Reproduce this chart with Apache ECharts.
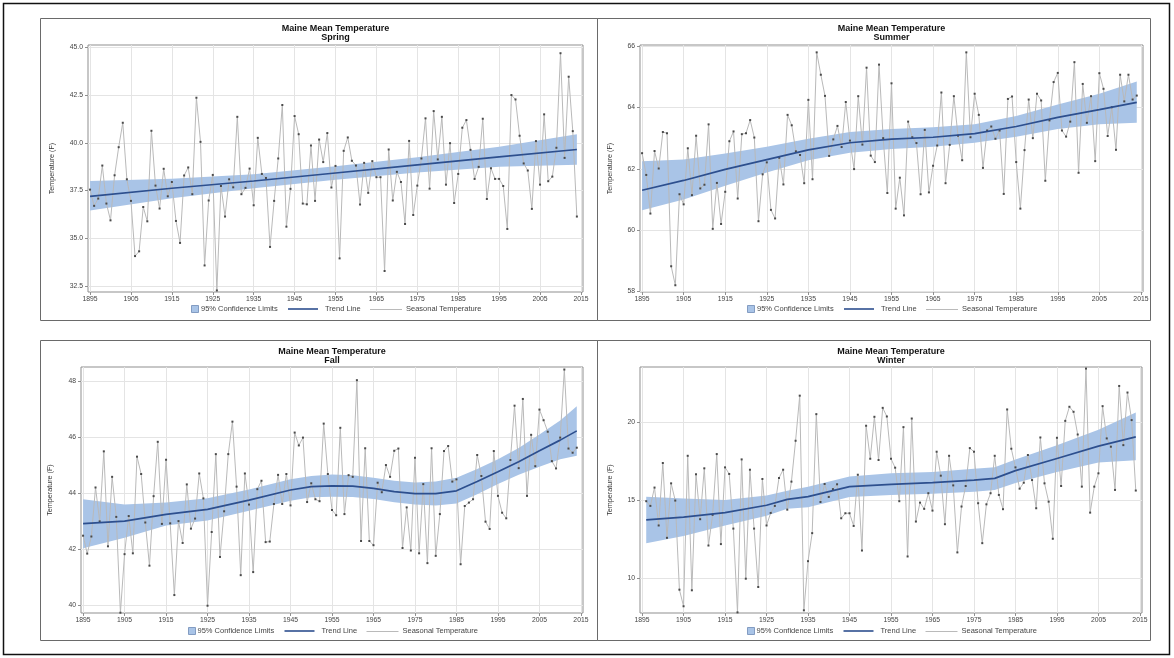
<!DOCTYPE html>
<html><head><meta charset="utf-8">
<script src="https://cdn.jsdelivr.net/npm/echarts@6/dist/echarts.min.js"></script>
<style>html,body{margin:0;padding:0;background:#fff}#c{width:1174px;height:658px}</style>
</head><body><div id="c"></div>
<script>
const YEARS = [1895,1896,1897,1898,1899,1900,1901,1902,1903,1904,1905,1906,1907,1908,1909,1910,1911,1912,1913,1914,
1915,1916,1917,1918,1919,1920,1921,1922,1923,1924,1925,1926,1927,1928,1929,1930,1931,1932,1933,1934,
1935,1936,1937,1938,1939,1940,1941,1942,1943,1944,1945,1946,1947,1948,1949,1950,1951,1952,1953,1954,
1955,1956,1957,1958,1959,1960,1961,1962,1963,1964,1965,1966,1967,1968,1969,1970,1971,1972,1973,1974,
1975,1976,1977,1978,1979,1980,1981,1982,1983,1984,1985,1986,1987,1988,1989,1990,1991,1992,1993,1994,
1995,1996,1997,1998,1999,2000,2001,2002,2003,2004,2005,2006,2007,2008,2009,2010,2011,2012,2013,2014];
const WINTER_YEARS = YEARS.slice(1);
const X_TICKS = [1895,1905,1915,1925,1935,1945,1955,1965,1975,1985,1995,2005,2015];

const SPRING = [37.55,36.7,37.08,38.81,36.82,35.94,38.30,39.77,41.05,38.09,
36.96,34.07,34.32,36.64,35.89,40.63,37.76,36.56,38.64,37.2,
37.95,35.91,34.76,38.29,38.71,37.31,42.36,40.05,33.58,36.98,
38.32,32.27,37.74,36.14,38.09,37.67,41.36,37.31,37.64,38.65,
36.73,40.26,38.37,38.16,34.55,36.96,39.18,41.98,35.61,37.59,
41.40,40.45,36.82,36.78,39.86,36.96,40.17,38.99,40.51,37.66,
38.79,33.95,39.58,40.28,39.06,38.81,36.77,38.95,37.38,39.04,
38.20,38.20,33.29,39.65,36.98,38.48,37.95,35.75,40.10,36.22,
37.76,39.18,41.28,37.60,41.66,39.13,41.36,37.81,39.98,36.85,
38.37,40.79,41.19,39.63,38.11,38.74,41.26,37.06,38.67,38.11,
38.11,37.74,35.49,42.50,42.27,40.37,38.92,38.55,36.54,40.09,
37.81,41.49,37.99,38.23,39.74,44.69,39.21,43.46,40.61,36.14];
const SUMMER = [62.51,61.80,60.54,62.58,62.01,63.20,63.16,58.82,58.20,61.17,
60.84,62.67,61.14,63.08,61.36,61.48,63.45,60.04,61.54,60.20,
61.25,62.90,63.22,61.03,63.13,63.16,63.59,63.02,60.29,61.82,
62.21,60.66,60.38,62.36,61.49,63.76,63.42,62.57,62.45,61.53,
64.25,61.66,65.80,65.07,64.38,62.42,62.96,63.40,62.71,64.18,
62.92,61.99,64.37,62.79,65.30,62.43,62.22,65.40,63.00,61.21,
64.79,60.70,61.71,60.48,63.54,63.03,62.84,61.17,63.27,61.23,
62.10,62.76,64.49,61.53,62.78,64.37,63.08,62.28,65.80,63.03,
64.45,63.76,62.03,63.25,63.38,62.98,63.25,61.18,64.28,64.36,
62.22,60.70,62.61,64.26,63.00,64.45,64.23,61.61,63.58,64.83,
65.13,63.25,63.05,63.54,65.48,61.87,64.77,63.50,64.37,62.25,
65.12,64.61,63.07,64.01,62.62,65.07,64.20,65.07,64.26,64.39];
const FALL = [42.49,41.85,42.46,44.21,43.00,45.50,42.11,44.59,43.16,39.74,
41.83,43.19,41.86,45.31,44.69,42.96,41.42,43.90,45.84,42.91,
45.20,42.93,40.37,43.01,42.23,44.32,42.74,43.10,44.71,43.82,
39.99,42.62,45.40,41.73,43.36,45.40,46.56,44.24,41.08,44.71,
43.60,41.19,44.15,44.45,42.26,42.28,43.62,44.66,43.62,44.69,
43.57,46.17,45.71,45.99,43.69,44.36,43.79,43.72,46.49,44.69,
43.41,43.22,46.34,43.26,44.65,44.59,48.04,42.30,45.61,42.30,
42.15,44.38,44.04,45.01,44.59,45.52,45.60,42.05,43.50,41.96,
45.27,41.86,44.33,41.51,45.61,41.77,43.26,45.51,45.69,44.42,
44.50,41.47,43.55,43.67,43.79,45.37,44.62,42.99,42.73,45.51,
43.91,43.31,43.11,45.19,47.13,44.90,47.37,43.91,46.09,44.97,
46.99,46.61,46.20,45.15,44.89,45.99,48.42,45.60,45.45,45.63];
const WINTER = [14.93,14.63,15.80,13.38,17.37,12.59,16.07,14.97,9.28,
8.22,17.83,9.24,16.65,13.78,17.03,12.10,14.06,17.94,12.19,
17.09,16.67,13.18,7.83,17.60,9.98,16.94,13.18,9.45,16.35,
13.38,14.18,14.63,16.41,16.94,14.39,16.18,18.79,21.67,7.96,
11.10,12.89,20.49,14.88,16.03,15.20,15.70,16.01,13.84,14.16,
14.16,13.35,16.62,11.78,19.75,17.64,20.32,17.56,20.89,20.34,
17.64,17.07,14.93,19.66,11.40,20.21,13.63,14.84,14.44,15.44,
14.33,18.09,16.56,13.46,17.83,15.94,11.66,14.59,15.90,18.32,
18.09,14.80,12.25,14.73,15.44,17.83,15.33,14.42,20.79,18.28,
17.09,15.73,16.11,17.88,16.28,14.48,19.00,16.07,14.90,12.53,
18.98,15.90,20.06,20.96,20.64,19.19,15.86,23.40,14.20,15.86,
16.71,21.00,18.94,18.41,15.65,22.29,18.51,21.87,20.11,15.61];

// trend line and 95% confidence limits, read at selected years
const SPRING_T_YEARS = [1895,1915,1935,1955,1975,1995,2014];
const SPRING_TREND = [37.20,37.62,38.00,38.42,38.84,39.26,39.65];
const SPRING_UPPER = [38.00,38.12,38.35,38.77,39.24,39.80,40.45];
const SPRING_LOWER = [36.45,37.10,37.62,38.07,38.45,38.75,38.85];

const SUMMER_T_YEARS = [1895,1905,1915,1925,1935,1945,1955,1965,1975,1985,1995,2005,2014];
const SUMMER_TREND = [61.30,61.62,61.98,62.30,62.62,62.85,62.97,63.03,63.15,63.38,63.68,63.93,64.17];
const SUMMER_UPPER = [62.25,62.30,62.50,62.72,62.98,63.20,63.30,63.36,63.45,63.72,64.10,64.45,64.85];
const SUMMER_LOWER = [60.65,61.00,61.45,61.88,62.28,62.52,62.65,62.72,62.85,63.05,63.30,63.45,63.50];

const FALL_T_YEARS = [1895,1905,1915,1925,1935,1945,1950,1955,1960,1965,1970,1975,1980,1985,1990,1995,2000,2005,2010,2014];
const FALL_TREND = [42.92,43.01,43.25,43.43,43.76,44.12,44.24,44.27,44.26,44.18,44.06,43.99,43.99,44.09,44.42,44.77,45.13,45.52,45.90,46.23];
const FALL_UPPER = [43.79,43.60,43.67,43.83,44.14,44.50,44.62,44.67,44.65,44.56,44.45,44.39,44.42,44.56,44.87,45.22,45.62,46.10,46.60,47.11];
const FALL_LOWER = [42.04,42.42,42.85,43.03,43.38,43.74,43.86,43.88,43.87,43.80,43.68,43.60,43.57,43.64,43.97,44.33,44.66,44.95,45.22,45.34];

const WINTER_T_YEARS = [1896,1905,1915,1925,1930,1935,1945,1955,1965,1975,1980,1985,1995,2005,2014];
const WINTER_TREND = [13.74,13.91,14.20,14.67,15.05,15.22,15.86,16.01,16.11,16.28,16.39,16.88,17.66,18.45,19.04];
const WINTER_UPPER = [15.22,15.10,15.00,15.30,15.60,15.86,16.50,16.71,16.80,17.00,17.10,17.60,18.50,19.50,20.60];
const WINTER_LOWER = [12.25,12.70,13.38,14.00,14.45,14.55,15.20,15.33,15.40,15.54,15.65,16.10,16.80,17.40,17.55];

const TITLE = 'Maine Mean Temperature';
const SEASONS = ['Spring','Summer','Fall','Winter'];
const Y_TICKS = [[32.5,35,37.5,40,42.5,45],[58,60,62,64,66],[40,42,44,46,48],[10,15,20]];
const Y_RANGE = [[32.19,45.12],[57.98,66.04],[39.73,48.51],[7.79,23.5]];
const L_CI = '95% Confidence Limits', L_TREND = 'Trend Line', L_SEAS = 'Seasonal Temperature';

const BAND = '#a9c4e7', TREND = '#2d4f8e', SEAS_LINE = '#b9b9b9', MARK = '#4a4a4a';
const FONT = '"Liberation Sans", Arial, sans-serif';

const panels = [
  {grid:{left:88, top:45, width:495, height:247}, years:YEARS, vals:SPRING, ty:SPRING_T_YEARS, tr:SPRING_TREND, up:SPRING_UPPER, lo:SPRING_LOWER, nameGap:32, fmt:v=>v.toFixed(1), titleY:28.5, legY:309},
  {grid:{left:640, top:45, width:503, height:247}, years:YEARS, vals:SUMMER, ty:SUMMER_T_YEARS, tr:SUMMER_TREND, up:SUMMER_UPPER, lo:SUMMER_LOWER, nameGap:26, fmt:v=>String(v), titleY:28.5, legY:309},
  {grid:{left:81, top:367, width:502, height:246}, years:YEARS, vals:FALL, ty:FALL_T_YEARS, tr:FALL_TREND, up:FALL_UPPER, lo:FALL_LOWER, nameGap:27, fmt:v=>String(v), titleY:351.5, legY:631},
  {grid:{left:640, top:367, width:502, height:246}, years:WINTER_YEARS, vals:WINTER, ty:WINTER_T_YEARS, tr:WINTER_TREND, up:WINTER_UPPER, lo:WINTER_LOWER, nameGap:26, fmt:v=>String(v), titleY:351.5, legY:631}
];

const grids=[], xAxes=[], yAxes=[], series=[], graphics=[];
function txt(x, y, s, extra) {
  return {type:'text', x, y, silent:true, style:Object.assign({text:s, align:'left', verticalAlign:'middle', fontSize:7.5, fontFamily:FONT, fill:'#444'}, extra||{})};
}
panels.forEach((p,i)=>{
  grids.push(Object.assign({show:true, borderColor:'#8f8f8f', borderWidth:1, backgroundColor:'#fff'}, p.grid));
  const tickStyle = {color:'#8f8f8f', width:1};
  xAxes.push({type:'value', gridIndex:i, min:1894.5, max:2015.5,
    axisLine:{show:false},
    axisTick:{show:true, length:3, lineStyle:tickStyle, customValues:X_TICKS},
    axisLabel:{customValues:X_TICKS, fontSize:6.8, color:'#444', margin:4, fontFamily:FONT, formatter:v=>String(v)},
    splitLine:{show:true, lineStyle:{color:'#e4e4e4', width:1}}});
  yAxes.push({type:'value', gridIndex:i, min:Y_RANGE[i][0], max:Y_RANGE[i][1],
    name:'Temperature (F)', nameLocation:'middle', nameGap:p.nameGap, nameRotate:90,
    nameTextStyle:{fontSize:7.2, color:'#333', fontFamily:FONT},
    axisLine:{show:false},
    axisTick:{show:true, length:3, lineStyle:tickStyle, customValues:Y_TICKS[i]},
    axisLabel:{customValues:Y_TICKS[i], fontSize:6.8, color:'#444', margin:5, formatter:p.fmt, fontFamily:FONT},
    splitLine:{show:true, lineStyle:{color:'#e4e4e4', width:1}}});
  const ty=p.ty, up=p.up, lo=p.lo;
  series.push({type:'custom', name:L_CI, xAxisIndex:i, yAxisIndex:i, silent:true, z:1,
    itemStyle:{color:BAND},
    data: ty.map((y,k)=>[y, lo[k], up[k]]),
    encode:{x:0, y:[1,2]},
    renderItem:(params, api)=>{
      if (params.dataIndex!==0) return null;
      const pts=[];
      for (let k=0;k<ty.length;k++) pts.push(api.coord([ty[k], up[k]]));
      for (let k=ty.length-1;k>=0;k--) pts.push(api.coord([ty[k], lo[k]]));
      return {type:'polygon', shape:{points:pts}, style:{fill:BAND}};
    }});
  series.push({type:'line', name:L_SEAS, xAxisIndex:i, yAxisIndex:i, z:3,
    data:p.years.map((y,k)=>[y,p.vals[k]]),
    symbol:'rect', symbolSize:2, itemStyle:{color:MARK},
    lineStyle:{color:SEAS_LINE, width:1}, animation:false});
  series.push({type:'line', name:L_TREND, xAxisIndex:i, yAxisIndex:i, z:4,
    data:ty.map((y,k)=>[y,p.tr[k]]), symbol:'none', smooth:false,
    itemStyle:{color:TREND}, lineStyle:{color:TREND, width:1.7}, animation:false});
  const cx = p.grid.left + p.grid.width/2;
  graphics.push(txt(cx, p.titleY, TITLE, {align:'center', fontSize:9, fontWeight:'bold', fill:'#111'}));
  graphics.push(txt(cx, p.titleY+9.5, SEASONS[i], {align:'center', fontSize:9, fontWeight:'bold', fill:'#111'}));
  // legend
  const ly = p.legY;
  graphics.push({type:'rect', silent:true, shape:{x:Math.round(cx-144.5)+0.5, y:ly-3.5, width:7, height:7}, style:{fill:BAND, stroke:'#6f8ab5', lineWidth:0.8}});
  graphics.push(txt(cx-134.5, ly, L_CI));
  graphics.push({type:'line', silent:true, shape:{x1:cx-47.5, y1:ly, x2:cx-17.5, y2:ly}, style:{stroke:TREND, lineWidth:1.6}});
  graphics.push(txt(cx-10.5, ly, L_TREND));
  graphics.push({type:'line', silent:true, shape:{x1:cx+34.5, y1:ly+0.5, x2:cx+66.5, y2:ly+0.5}, style:{stroke:'#a8a8a8', lineWidth:0.8}});
  graphics.push(txt(cx+70.5, ly, L_SEAS));
});
// panel frames and outer border
graphics.push({type:'rect', silent:true, shape:{x:3.5,y:3.5,width:1166,height:651}, style:{fill:null, stroke:'#111', lineWidth:1.5}, z:-1});
[[40.5,18.5,557,302],[597.5,18.5,553,302],[40.5,340.5,557,300],[597.5,340.5,553,300]].forEach(r=>{
  graphics.push({type:'rect', silent:true, shape:{x:r[0],y:r[1],width:r[2],height:r[3]}, style:{fill:null, stroke:'#6a6a6a', lineWidth:1}, z:-1});
});

const chart = echarts.init(document.getElementById('c'), null, {renderer:'canvas'});
chart.setOption({animation:false, backgroundColor:'#fff', grid:grids, xAxis:xAxes, yAxis:yAxes, series, graphic:graphics});
</script></body></html>
